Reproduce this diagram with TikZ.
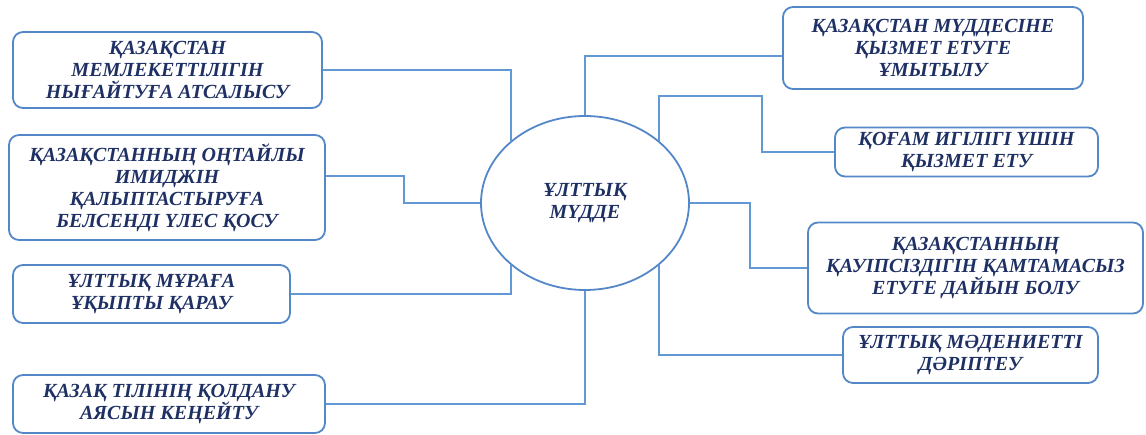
\documentclass[tikz,border=0pt]{standalone}
\usepackage{fontspec}
\setmainfont{Liberation Serif}
\usetikzlibrary{shapes.geometric}

\definecolor{boxblue}{RGB}{84,135,200}
\definecolor{lineblue}{RGB}{98,152,212}
\definecolor{textnavy}{RGB}{30,48,100}

\begin{document}
\begin{tikzpicture}[
    x=1pt, y=-1pt,
    font=\fontsize{20}{22}\selectfont\bfseries\itshape,
    goal/.style={draw=boxblue, line width=1.8pt, rounded corners=10pt, align=center, text=textnavy, inner sep=2pt},
    core/.style={ellipse, draw=boxblue, line width=1.8pt, minimum width=208pt, minimum height=174pt, inner sep=0pt, align=center, text=textnavy},
    link/.style={draw=lineblue, line width=1.8pt}
  ]
    \useasboundingbox (0,0) rectangle (1146,435);

    % Centre
    \node[core] (c) at (585,203) {ҰЛТТЫҚ\\МҮДДЕ};

    % Left goals
    \node[goal, minimum width=309pt, minimum height=76pt] (l1) at (167.5,70) {ҚАЗАҚСТАН\\МЕМЛЕКЕТТІЛІГІН\\НЫҒАЙТУҒА АТСАЛЫСУ};
    \node[goal, minimum width=316pt, minimum height=105pt] (l2) at (167,187.5) {ҚАЗАҚСТАННЫҢ ОҢТАЙЛЫ\\ИМИДЖІН\\ҚАЛЫПТАСТЫРУҒА\\БЕЛСЕНДІ ҮЛЕС ҚОСУ};
    \node[goal, minimum width=277pt, minimum height=58pt] (l3) at (151.5,294) {ҰЛТТЫҚ МҰРАҒА\\ҰҚЫПТЫ ҚАРАУ};
    \node[goal, minimum width=312pt, minimum height=58pt] (l4) at (169,404) {ҚАЗАҚ ТІЛІНІҢ ҚОЛДАНУ\\АЯСЫН КЕҢЕЙТУ};

    % Right goals
    \node[goal, minimum width=300pt, minimum height=82pt] (r1) at (933,48) {ҚАЗАҚСТАН МҮДДЕСІНЕ\\ҚЫЗМЕТ ЕТУГЕ\\ҰМЫТЫЛУ};
    \node[goal, minimum width=263pt, minimum height=49pt] (r2) at (966.5,152) {ҚОҒАМ ИГІЛІГІ ҮШІН\\ҚЫЗМЕТ ЕТУ};
    \node[goal, minimum width=335pt, minimum height=91pt] (r3) at (975.5,268) {ҚАЗАҚСТАННЫҢ\\ҚАУІПСІЗДІГІН ҚАМТАМАСЫЗ\\ЕТУГЕ ДАЙЫН БОЛУ};
    \node[goal, minimum width=255pt, minimum height=56pt] (r4) at (970.5,355) {ҰЛТТЫҚ МӘДЕНИЕТТІ\\ДӘРІПТЕУ};

    % Links, left side
    \draw[link] (l1.east) -| (c.140);
    \draw[link] (l2.4) -- ++(78,0) |- (c.west);
    \draw[link] (l3.east) -| (c.220);
    \draw[link] (l4.east) -| (c.south);

    % Links, right side
    \draw[link] (r1.183) -| (c.north);
    \draw[link] (c.40) |- ++(103,-45) |- (r2.west);
    \draw[link] (c.east) -- ++(60,0) |- (r3.west);
    \draw[link] (c.-40) |- (r4.west);
  \end{tikzpicture}
\end{document}
